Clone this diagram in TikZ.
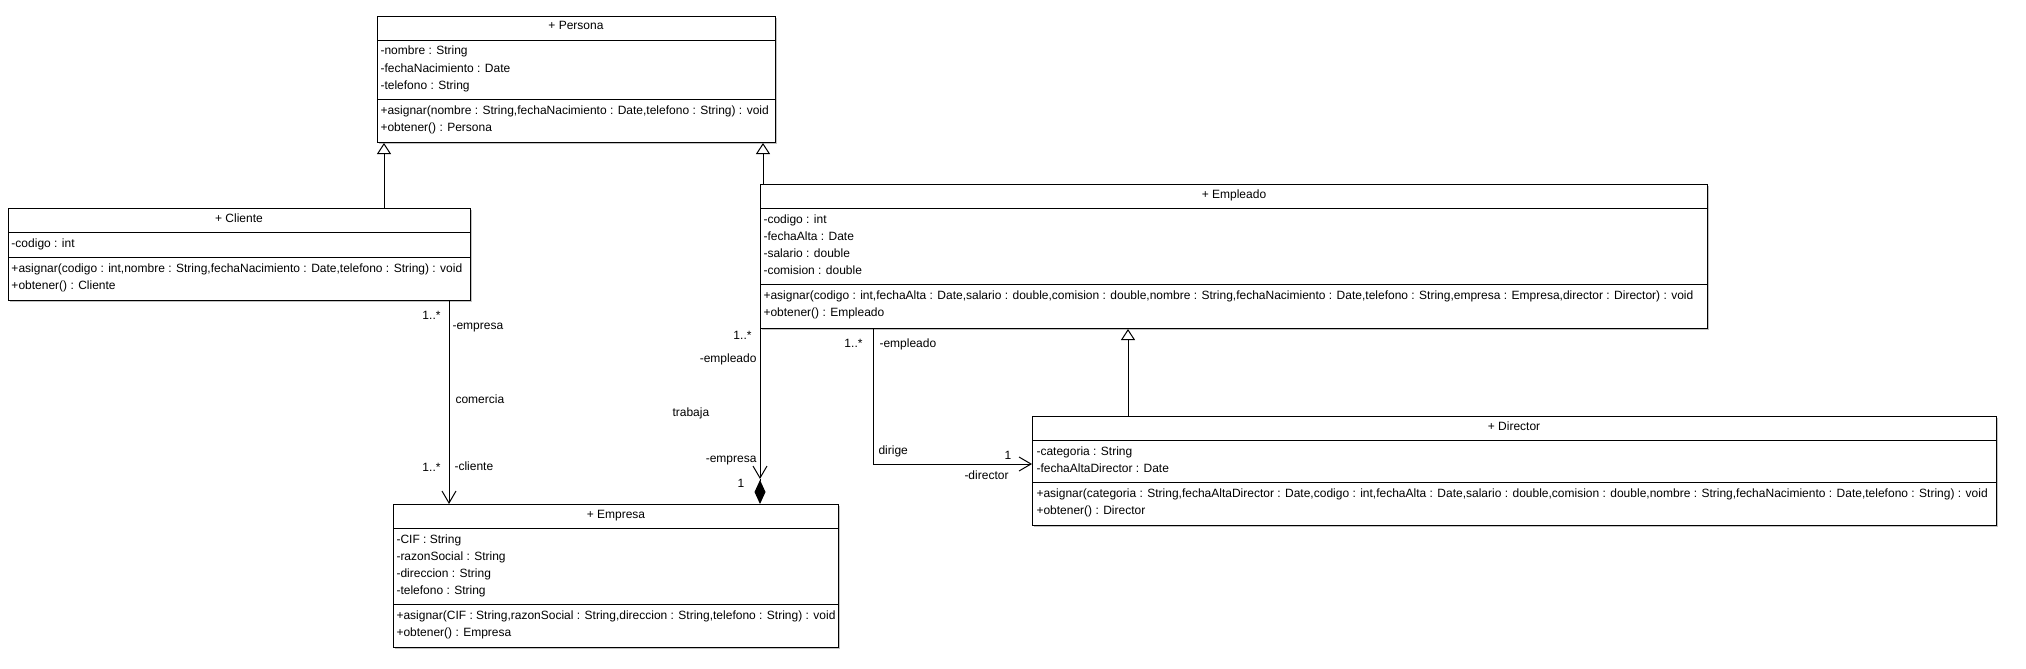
\documentclass[tikz,border=0pt]{standalone}
\usepackage{fontspec}
\setmainfont{Liberation Sans}
\usetikzlibrary{arrows.meta,shadows}
\begin{document}
\begin{tikzpicture}[x=1pt,y=-1pt,line width=1pt,
    font=\fontsize{12}{14}\selectfont,
    umlclass/.style={draw,fill=white,anchor=north west,inner sep=0pt,
      drop shadow={shadow xshift=1.5pt,shadow yshift=-1.5pt,fill=black!40,opacity=0.6}},
    row/.style={anchor=base west,inner sep=0pt},
    title/.style={anchor=base,inner sep=0pt},
    lbl/.style={inner sep=0pt},
    gen/.style={-{Triangle[length=11pt,width=14pt,fill=white]}},
    nav/.style={-{Straight Barb[length=12pt,width=14pt]}}]
    \useasboundingbox (0,0) rectangle (2026,669);

    \node[umlclass,minimum width=398pt,minimum height=126pt] (persona) at (377,16) {};
    \draw (persona.west |- 0,41) -- (persona.east |- 0,41);
    \draw (persona.west |- 0,99) -- (persona.east |- 0,99);
    \node[title] (persona-t) at (576,30) {+ Persona};
    \node[row] (persona-a1) at (380,55) {-nombre : String};
    \node[row] (persona-a2) at (380,72) {-fechaNacimiento : Date};
    \node[row] (persona-a3) at (380,89) {-telefono : String};
    \node[row] (persona-m1) at (380,114) {+asignar(nombre : String,fechaNacimiento : Date,telefono : String) : void};
    \node[row] (persona-m2) at (380,131) {+obtener() : Persona};

    \node[umlclass,minimum width=462pt,minimum height=92pt] (cliente) at (8,208) {};
    \draw (cliente.west |- 0,232) -- (cliente.east |- 0,232);
    \draw (cliente.west |- 0,257) -- (cliente.east |- 0,257);
    \node[title] (cliente-t) at (239,222) {+ Cliente};
    \node[row] (cliente-a1) at (11,247) {-codigo : int};
    \node[row] (cliente-m1) at (11,272) {+asignar(codigo : int,nombre : String,fechaNacimiento : Date,telefono : String) : void};
    \node[row] (cliente-m2) at (11,289) {+obtener() : Cliente};

    \node[umlclass,minimum width=947pt,minimum height=144pt] (empleado) at (760,184) {};
    \draw (empleado.west |- 0,208) -- (empleado.east |- 0,208);
    \draw (empleado.west |- 0,284) -- (empleado.east |- 0,284);
    \node[title] (empleado-t) at (1234,198) {+ Empleado};
    \node[row] (empleado-a1) at (763,223) {-codigo : int};
    \node[row] (empleado-a2) at (763,240) {-fechaAlta : Date};
    \node[row] (empleado-a3) at (763,257) {-salario : double};
    \node[row] (empleado-a4) at (763,274) {-comision : double};
    \node[row] (empleado-m1) at (763,299) {+asignar(codigo : int,fechaAlta : Date,salario : double,comision : double,nombre : String,fechaNacimiento : Date,telefono : String,empresa : Empresa,director : Director) : void};
    \node[row] (empleado-m2) at (763,316) {+obtener() : Empleado};

    \node[umlclass,minimum width=445pt,minimum height=143pt] (empresa) at (393,504) {};
    \draw (empresa.west |- 0,528) -- (empresa.east |- 0,528);
    \draw (empresa.west |- 0,604) -- (empresa.east |- 0,604);
    \node[title] (empresa-t) at (616,518) {+ Empresa};
    \node[row] (empresa-a1) at (396,543) {-CIF : String};
    \node[row] (empresa-a2) at (396,560) {-razonSocial : String};
    \node[row] (empresa-a3) at (396,577) {-direccion : String};
    \node[row] (empresa-a4) at (396,594) {-telefono : String};
    \node[row] (empresa-m1) at (396,619) {+asignar(CIF : String,razonSocial : String,direccion : String,telefono : String) : void};
    \node[row] (empresa-m2) at (396,636) {+obtener() : Empresa};

    \node[umlclass,minimum width=964pt,minimum height=109pt] (director) at (1032,416) {};
    \draw (director.west |- 0,440) -- (director.east |- 0,440);
    \draw (director.west |- 0,482) -- (director.east |- 0,482);
    \node[title] (director-t) at (1514,430) {+ Director};
    \node[row] (director-a1) at (1036,455) {-categoria : String};
    \node[row] (director-a2) at (1036,472) {-fechaAltaDirector : Date};
    \node[row] (director-m1) at (1036,497) {+asignar(categoria : String,fechaAltaDirector : Date,codigo : int,fechaAlta : Date,salario : double,comision : double,nombre : String,fechaNacimiento : Date,telefono : String) : void};
    \node[row] (director-m2) at (1036,514) {+obtener() : Director};

    \coordinate (g1) at (384,0);
    \draw[gen] (g1 |- cliente.north) -- (g1 |- persona.south);
    \coordinate (g2) at (763,0);
    \draw[gen] (g2 |- empleado.north) -- (g2 |- persona.south);
    \coordinate (g3) at (1128,0);
    \draw[gen] (g3 |- director.north) -- (g3 |- empleado.south);

    \coordinate (a1) at (449,0);
    \draw[nav] (a1 |- cliente.south) -- (a1 |- empresa.north);
    \coordinate (a2) at (760,479);
    \draw[nav] (a2 |- empleado.south) -- (a2);
    \draw[-{Diamond[length=24pt,width=11pt]}] (a2) -- (a2 |- empresa.north);
    \coordinate (a3) at (873,464);
    \draw[nav] (a3 |- empleado.south) -- (a3) -- (a3 -| director.west);

    \node[lbl,anchor=base east] (m1) at (441,319) {1..*};
    \node[lbl,anchor=base west] (r1) at (452,329) {-empresa};
    \node[lbl,anchor=base west] (n1) at (455,403) {comercia};
    \node[lbl,anchor=base east] (m2) at (441,471) {1..*};
    \node[lbl,anchor=base west] (r2) at (454,470) {-cliente};
    \node[lbl,anchor=base east] (m3) at (752,339) {1..*};
    \node[lbl,anchor=base east] (r3) at (757,362) {-empleado};
    \node[lbl,anchor=base west] (n2) at (672,416) {trabaja};
    \node[lbl,anchor=base east] (r4) at (757,462) {-empresa};
    \node[lbl,anchor=base] (m4) at (741,487) {1};
    \node[lbl,anchor=base east] (m5) at (863,347) {1..*};
    \node[lbl,anchor=base west] (r5) at (879,347) {-empleado};
    \node[lbl,anchor=base west] (n3) at (878,454) {dirige};
    \node[lbl,anchor=base] (m6) at (1008,459) {1};
    \node[lbl,anchor=base east] (r6) at (1009,479) {-director};
  \end{tikzpicture}
\end{document}
